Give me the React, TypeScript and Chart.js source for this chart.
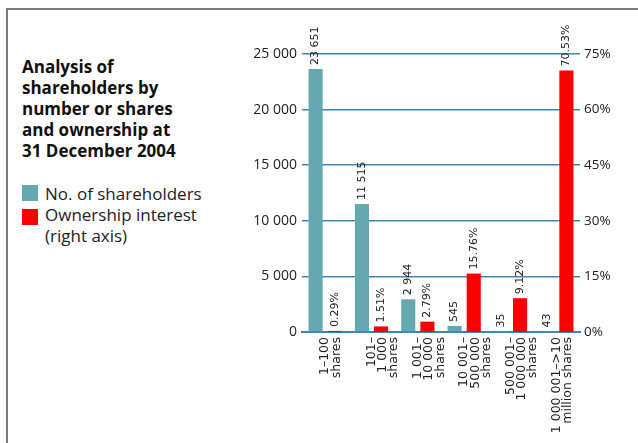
import React, { useEffect, useRef } from "react";
import { Chart, registerables } from "chart.js";

Chart.register(...registerables);

const categories: string[][] = [
  ["1–100", "shares"],
  ["101–", "1 000", "shares"],
  ["1 001–", "10 000", "shares"],
  ["10 001–", "500 000", "shares"],
  ["500 001–", "1 000 000", "shares"],
  ["1 000 001–>10", "million shares"],
];
const shareholders: number[] = [23651, 11515, 2944, 545, 35, 43];
const ownership: number[] = [0.29, 1.51, 2.79, 15.76, 9.12, 70.53];
const leftTicks: number[] = [0, 5000, 10000, 15000, 20000, 25000];
const rightTicks: number[] = [0, 15, 30, 45, 60, 75];

const TEAL = "#66a8b0";
const RED = "#ff0000";
const GRID = "#3a87b0";

const fmtThousands = (v: number) =>
  String(Math.round(v)).replace(/\B(?=(\d{3})+(?!\d))/g, " ");

const dataLabels = {
  id: "dataLabels",
  afterDatasetsDraw(chart: any) {
    const ctx = chart.ctx;
    ctx.save();
    ctx.font = "11px 'DejaVu Sans'";
    ctx.fillStyle = "#222";
    chart.data.datasets.forEach((ds: any, di: number) => {
      const meta = chart.getDatasetMeta(di);
      meta.data.forEach((bar: any, i: number) => {
        const v = ds.data[i];
        const txt = di === 0 ? fmtThousands(v) : v.toFixed(2) + "%";
        ctx.save();
        ctx.translate(bar.x, bar.y - 4);
        ctx.rotate(-Math.PI / 2);
        ctx.textAlign = "left";
        ctx.textBaseline = "middle";
        ctx.fillText(txt, 0, 0);
        ctx.restore();
      });
    });
    ctx.restore();
  },
};

export default function App() {
  const ref = useRef<HTMLCanvasElement>(null);
  useEffect(() => {
    if (!ref.current) return;
    const chart = new Chart(ref.current, {
      type: "bar",
      data: {
        labels: categories,
        datasets: [
          {
            label: "No. of shareholders",
            data: shareholders,
            backgroundColor: TEAL,
            yAxisID: "y",
            barPercentage: 0.737,
            categoryPercentage: 0.826,
          },
          {
            label: "Ownership interest (right axis)",
            data: ownership,
            backgroundColor: RED,
            yAxisID: "y1",
            barPercentage: 0.737,
            categoryPercentage: 0.826,
          },
        ],
      },
      options: {
        responsive: false,
        animation: false,
        devicePixelRatio: 1,
        layout: { padding: { top: 54, left: 0, right: 0, bottom: 0 } },
        plugins: {
          legend: { display: false },
          tooltip: { enabled: false },
          title: { display: false },
        },
        scales: {
          x: {
            grid: { display: false, drawTicks: false },
            border: { display: true, color: GRID, width: 2 },
            ticks: {
              autoSkip: false,
              maxRotation: 90,
              minRotation: 90,
              padding: 5,
              color: "#222",
              font: { family: "'DejaVu Sans'", size: 12.5, lineHeight: 0.9 },
            },
            afterFit(scale: any) {
              scale.height = 111;
            },
          },
          y: {
            position: "left",
            min: 0,
            max: 25000,
            afterBuildTicks(scale: any) {
              scale.ticks = leftTicks.map((v) => ({ value: v }));
            },
            grid: { color: GRID, lineWidth: 1.5, drawTicks: false },
            border: { display: false },
            ticks: {
              padding: 5,
              color: "#222",
              font: { family: "'Open Sans'", size: 14 },
              callback: (v: any) => fmtThousands(Number(v)),
            },
            afterFit(scale: any) {
              scale.width = 302;
            },
          },
          y1: {
            position: "right",
            min: 0,
            max: 75,
            afterBuildTicks(scale: any) {
              scale.ticks = rightTicks.map((v) => ({ value: v }));
            },
            grid: { display: false, drawTicks: false },
            border: { display: false },
            ticks: {
              padding: 4,
              color: "#222",
              font: { family: "'Open Sans'", size: 13.5 },
              callback: (v: any) => v + "%",
            },
            afterFit(scale: any) {
              scale.width = 58;
            },
          },
        },
      },
      plugins: [dataLabels],
    });
    return () => chart.destroy();
  }, []);

  const textStyle: React.CSSProperties = {
    position: "absolute",
    fontFamily: "'Open Sans', sans-serif",
    fontSize: 17,
    lineHeight: "21px",
    color: "#222",
    margin: 0,
    whiteSpace: "nowrap",
  };

  return (
    <div style={{ position: "absolute", left: 0, top: 0, width: 638, height: 443, overflow: "hidden", background: "#fff" }}>
      <div
        style={{
          position: "absolute",
          left: 6,
          top: 8,
          width: 632,
          height: 435,
          boxSizing: "border-box",
          borderTop: "2px solid #7a7a7a",
          borderLeft: "2px solid #7a7a7a",
        }}
      />
      <div style={{ ...textStyle, left: 22, top: 56, fontWeight: 700, color: "#111" }}>
        Analysis of
        <br />
        shareholders by
        <br />
        number or shares
        <br />
        and ownership at
        <br />
        31 December 2004
      </div>
      <div style={{ position: "absolute", left: 22, top: 185, width: 16, height: 16, background: TEAL }} />
      <div style={{ position: "absolute", left: 22, top: 209, width: 16, height: 16, background: RED }} />
      <div style={{ ...textStyle, left: 45, top: 183 }}>
        No. of shareholders
        <br />
        Ownership interest
        <br />
        (right axis)
      </div>
      <canvas ref={ref} width={638} height={443} style={{ position: "absolute", left: 0, top: 0 }} />
    </div>
  );
}
